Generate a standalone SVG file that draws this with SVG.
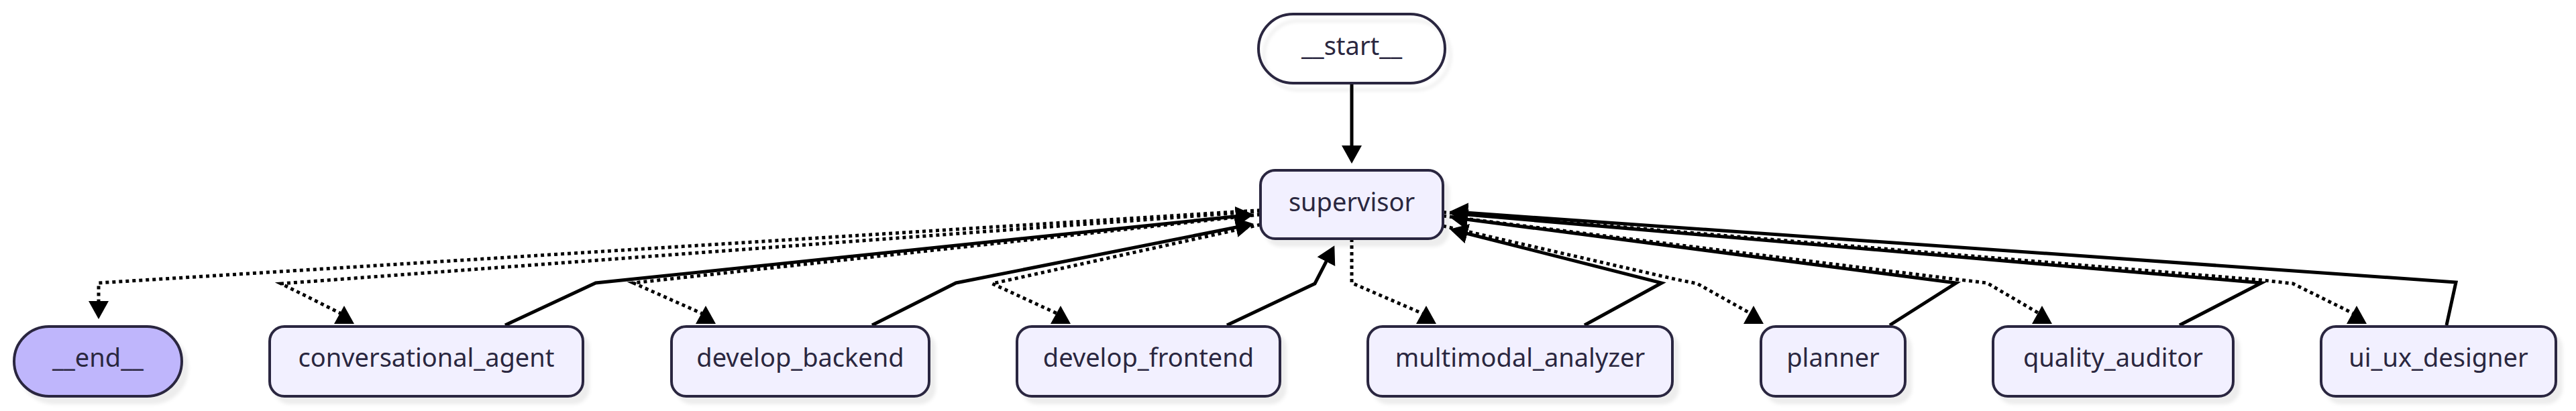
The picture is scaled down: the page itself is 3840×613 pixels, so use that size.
<svg xmlns="http://www.w3.org/2000/svg" width="3840" height="613" viewBox="0 0 3840 613">
<defs>
<style>
.node{stroke:#2a273f;stroke-width:4;filter:url(#sh)}
.def{fill:#f2f0ff}
.first{fill:#ffffff;fill-opacity:0}
.last{fill:#bfb6fc}
.lbl{font-family:"Noto Sans","DejaVu Sans",sans-serif;font-size:38px;fill:#2a273f;text-anchor:middle}
.solid{fill:none;stroke:#000;stroke-width:5;stroke-linejoin:miter}
.dot{fill:none;stroke:#000;stroke-width:5;stroke-dasharray:5 5}
</style>
<filter id="sh" x="-10%" y="-20%" width="130%" height="160%">
<feDropShadow dx="8" dy="10" stdDeviation="2.5" flood-color="#000" flood-opacity="0.07"/>
</filter>
<marker id="arr" markerUnits="userSpaceOnUse" markerWidth="28" markerHeight="32" refX="22" refY="15" orient="auto">
<path d="M0,0 L27,15 L0,30 z" fill="#000"/>
</marker>
<marker id="up" markerUnits="userSpaceOnUse" markerWidth="28" markerHeight="32" refX="13" refY="15" orient="270">
<path d="M0,0 L27,15 L0,30 z" fill="#000"/>
</marker>
</defs>
<rect width="3840" height="613" fill="#ffffff"/>
<g id="connectors">
<path class="solid" d="M2015,126 L2015,239" marker-end="url(#arr)"/>
<path class="dot" d="M1879,313.6 L147,422 L147,471" marker-end="url(#arr)"/>
<path class="dot" d="M1879,315 L419,423 L513,470" marker-end="url(#up)"/>
<path class="dot" d="M1879,320 L944,422 L1052,470" marker-end="url(#up)"/>
<path class="dot" d="M1879,335 L1479,423 L1581,470" marker-end="url(#up)"/>
<path class="dot" d="M2015,356 L2015,422 L2126,470" marker-end="url(#up)"/>
<path class="dot" d="M2151,337 L2500,417 L2530,423 L2614,470" marker-end="url(#up)"/>
<path class="dot" d="M2151,322 L2920,417 L2962,422 L3044,470" marker-end="url(#up)"/>
<path class="dot" d="M2151,316.5 L3374,418 L3418,423 L3513,470" marker-end="url(#up)"/>
<path class="solid" d="M753,485 L888,422 L1864,320.4" marker-end="url(#arr)"/>
<path class="solid" d="M1300,485 L1425,422 L1864,334.8" marker-end="url(#arr)"/>
<path class="solid" d="M1829,485 L1960,423 L1987,370.6" marker-end="url(#arr)"/>
<path class="solid" d="M2362,485 L2477,422 L2166,343" marker-end="url(#arr)"/>
<path class="solid" d="M2817,485 L2916,422 L2166,324.5" marker-end="url(#arr)"/>
<path class="solid" d="M3249,485 L3371,422 L2166,318.3" marker-end="url(#arr)"/>
<path class="solid" d="M3647,485 L3661,421 L2166,315.8" marker-end="url(#arr)"/>
</g>
<g id="node-start"><rect class="node first" x="1876" y="21" width="278" height="103" rx="51.5"/><text class="lbl" x="2015" y="82">__start__</text></g>
<g id="node-supervisor"><rect class="node def" x="1879" y="254" width="272" height="102" rx="22"/><text class="lbl" x="2015" y="315">supervisor</text></g>
<g id="node-end"><rect class="node last" x="21" y="487" width="250" height="104" rx="52"/><text class="lbl" x="146" y="547">__end__</text></g>
<g id="node-conversational_agent"><rect class="node def" x="402" y="487" width="467" height="104" rx="22"/><text class="lbl" x="635.5" y="547">conversational_agent</text></g>
<g id="node-develop_backend"><rect class="node def" x="1001" y="487" width="384" height="104" rx="22"/><text class="lbl" x="1193" y="547">develop_backend</text></g>
<g id="node-develop_frontend"><rect class="node def" x="1516" y="487" width="392" height="104" rx="22"/><text class="lbl" x="1712" y="547">develop_frontend</text></g>
<g id="node-multimodal_analyzer"><rect class="node def" x="2039" y="487" width="454" height="104" rx="22"/><text class="lbl" x="2266" y="547">multimodal_analyzer</text></g>
<g id="node-planner"><rect class="node def" x="2625" y="487" width="215" height="104" rx="22"/><text class="lbl" x="2732.5" y="547">planner</text></g>
<g id="node-quality_auditor"><rect class="node def" x="2971" y="487" width="358" height="104" rx="22"/><text class="lbl" x="3150" y="547">quality_auditor</text></g>
<g id="node-ui_ux_designer"><rect class="node def" x="3460" y="487" width="350" height="104" rx="22"/><text class="lbl" x="3635" y="547">ui_ux_designer</text></g>
</svg>
